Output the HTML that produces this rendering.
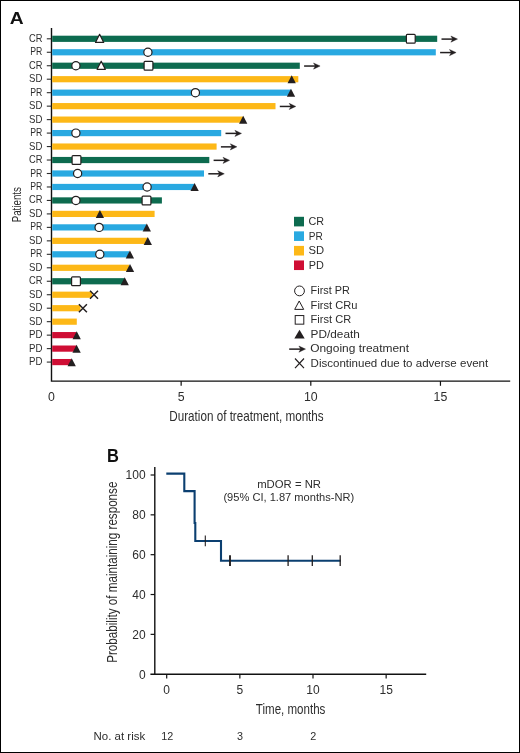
<!DOCTYPE html>
<html><head><meta charset="utf-8"><style>
html,body{margin:0;padding:0;background:#fff;}
svg{display:block;font-family:"Liberation Sans",sans-serif;}
svg{will-change:transform;}
</style></head><body>
<svg width="520" height="753" viewBox="0 0 520 753">
<rect x="0" y="0" width="520" height="753" fill="#fff"/>
<text x="9.7" y="24.1" font-size="17.4" font-weight="bold" textLength="13.9" lengthAdjust="spacingAndGlyphs" fill="#111">A</text>
<path d="M51.5,28 L51.5,381.1 L510.2,381.1" stroke="#111" stroke-width="1.4" fill="none"/>
<path d="M46.8,38.80 L51.5,38.80" stroke="#2d2d2d" stroke-width="1.1"/>
<text x="42.4" y="41.80" font-size="10.1" text-anchor="end" textLength="13.5" lengthAdjust="spacingAndGlyphs" fill="#2d2d2d">CR</text>
<path d="M46.8,52.27 L51.5,52.27" stroke="#2d2d2d" stroke-width="1.1"/>
<text x="42.4" y="55.27" font-size="10.1" text-anchor="end" textLength="12.1" lengthAdjust="spacingAndGlyphs" fill="#2d2d2d">PR</text>
<path d="M46.8,65.74 L51.5,65.74" stroke="#2d2d2d" stroke-width="1.1"/>
<text x="42.4" y="68.74" font-size="10.1" text-anchor="end" textLength="13.5" lengthAdjust="spacingAndGlyphs" fill="#2d2d2d">CR</text>
<path d="M46.8,79.21 L51.5,79.21" stroke="#2d2d2d" stroke-width="1.1"/>
<text x="42.4" y="82.21" font-size="10.1" text-anchor="end" textLength="13.3" lengthAdjust="spacingAndGlyphs" fill="#2d2d2d">SD</text>
<path d="M46.8,92.68 L51.5,92.68" stroke="#2d2d2d" stroke-width="1.1"/>
<text x="42.4" y="95.68" font-size="10.1" text-anchor="end" textLength="12.1" lengthAdjust="spacingAndGlyphs" fill="#2d2d2d">PR</text>
<path d="M46.8,106.15 L51.5,106.15" stroke="#2d2d2d" stroke-width="1.1"/>
<text x="42.4" y="109.15" font-size="10.1" text-anchor="end" textLength="13.3" lengthAdjust="spacingAndGlyphs" fill="#2d2d2d">SD</text>
<path d="M46.8,119.62 L51.5,119.62" stroke="#2d2d2d" stroke-width="1.1"/>
<text x="42.4" y="122.62" font-size="10.1" text-anchor="end" textLength="13.3" lengthAdjust="spacingAndGlyphs" fill="#2d2d2d">SD</text>
<path d="M46.8,133.09 L51.5,133.09" stroke="#2d2d2d" stroke-width="1.1"/>
<text x="42.4" y="136.09" font-size="10.1" text-anchor="end" textLength="12.1" lengthAdjust="spacingAndGlyphs" fill="#2d2d2d">PR</text>
<path d="M46.8,146.56 L51.5,146.56" stroke="#2d2d2d" stroke-width="1.1"/>
<text x="42.4" y="149.56" font-size="10.1" text-anchor="end" textLength="13.3" lengthAdjust="spacingAndGlyphs" fill="#2d2d2d">SD</text>
<path d="M46.8,160.03 L51.5,160.03" stroke="#2d2d2d" stroke-width="1.1"/>
<text x="42.4" y="163.03" font-size="10.1" text-anchor="end" textLength="13.5" lengthAdjust="spacingAndGlyphs" fill="#2d2d2d">CR</text>
<path d="M46.8,173.50 L51.5,173.50" stroke="#2d2d2d" stroke-width="1.1"/>
<text x="42.4" y="176.50" font-size="10.1" text-anchor="end" textLength="12.1" lengthAdjust="spacingAndGlyphs" fill="#2d2d2d">PR</text>
<path d="M46.8,186.97 L51.5,186.97" stroke="#2d2d2d" stroke-width="1.1"/>
<text x="42.4" y="189.97" font-size="10.1" text-anchor="end" textLength="12.1" lengthAdjust="spacingAndGlyphs" fill="#2d2d2d">PR</text>
<path d="M46.8,200.44 L51.5,200.44" stroke="#2d2d2d" stroke-width="1.1"/>
<text x="42.4" y="203.44" font-size="10.1" text-anchor="end" textLength="13.5" lengthAdjust="spacingAndGlyphs" fill="#2d2d2d">CR</text>
<path d="M46.8,213.91 L51.5,213.91" stroke="#2d2d2d" stroke-width="1.1"/>
<text x="42.4" y="216.91" font-size="10.1" text-anchor="end" textLength="13.3" lengthAdjust="spacingAndGlyphs" fill="#2d2d2d">SD</text>
<path d="M46.8,227.38 L51.5,227.38" stroke="#2d2d2d" stroke-width="1.1"/>
<text x="42.4" y="230.38" font-size="10.1" text-anchor="end" textLength="12.1" lengthAdjust="spacingAndGlyphs" fill="#2d2d2d">PR</text>
<path d="M46.8,240.85 L51.5,240.85" stroke="#2d2d2d" stroke-width="1.1"/>
<text x="42.4" y="243.85" font-size="10.1" text-anchor="end" textLength="13.3" lengthAdjust="spacingAndGlyphs" fill="#2d2d2d">SD</text>
<path d="M46.8,254.32 L51.5,254.32" stroke="#2d2d2d" stroke-width="1.1"/>
<text x="42.4" y="257.32" font-size="10.1" text-anchor="end" textLength="12.1" lengthAdjust="spacingAndGlyphs" fill="#2d2d2d">PR</text>
<path d="M46.8,267.79 L51.5,267.79" stroke="#2d2d2d" stroke-width="1.1"/>
<text x="42.4" y="270.79" font-size="10.1" text-anchor="end" textLength="13.3" lengthAdjust="spacingAndGlyphs" fill="#2d2d2d">SD</text>
<path d="M46.8,281.26 L51.5,281.26" stroke="#2d2d2d" stroke-width="1.1"/>
<text x="42.4" y="284.26" font-size="10.1" text-anchor="end" textLength="13.5" lengthAdjust="spacingAndGlyphs" fill="#2d2d2d">CR</text>
<path d="M46.8,294.73 L51.5,294.73" stroke="#2d2d2d" stroke-width="1.1"/>
<text x="42.4" y="297.73" font-size="10.1" text-anchor="end" textLength="13.3" lengthAdjust="spacingAndGlyphs" fill="#2d2d2d">SD</text>
<path d="M46.8,308.20 L51.5,308.20" stroke="#2d2d2d" stroke-width="1.1"/>
<text x="42.4" y="311.20" font-size="10.1" text-anchor="end" textLength="13.3" lengthAdjust="spacingAndGlyphs" fill="#2d2d2d">SD</text>
<path d="M46.8,321.67 L51.5,321.67" stroke="#2d2d2d" stroke-width="1.1"/>
<text x="42.4" y="324.67" font-size="10.1" text-anchor="end" textLength="13.3" lengthAdjust="spacingAndGlyphs" fill="#2d2d2d">SD</text>
<path d="M46.8,335.14 L51.5,335.14" stroke="#2d2d2d" stroke-width="1.1"/>
<text x="42.4" y="338.14" font-size="10.1" text-anchor="end" textLength="13.4" lengthAdjust="spacingAndGlyphs" fill="#2d2d2d">PD</text>
<path d="M46.8,348.61 L51.5,348.61" stroke="#2d2d2d" stroke-width="1.1"/>
<text x="42.4" y="351.61" font-size="10.1" text-anchor="end" textLength="13.4" lengthAdjust="spacingAndGlyphs" fill="#2d2d2d">PD</text>
<path d="M46.8,362.08 L51.5,362.08" stroke="#2d2d2d" stroke-width="1.1"/>
<text x="42.4" y="365.08" font-size="10.1" text-anchor="end" textLength="13.4" lengthAdjust="spacingAndGlyphs" fill="#2d2d2d">PD</text>
<rect x="52.2" y="35.70" width="385.00" height="6.2" fill="#0d6b4f"/>
<rect x="52.2" y="49.17" width="383.60" height="6.2" fill="#29a9e1"/>
<rect x="52.2" y="62.64" width="247.60" height="6.2" fill="#0d6b4f"/>
<rect x="52.2" y="76.11" width="246.10" height="6.2" fill="#fdb817"/>
<rect x="52.2" y="89.58" width="238.80" height="6.2" fill="#29a9e1"/>
<rect x="52.2" y="103.05" width="223.30" height="6.2" fill="#fdb817"/>
<rect x="52.2" y="116.52" width="190.80" height="6.2" fill="#fdb817"/>
<rect x="52.2" y="129.99" width="169.00" height="6.2" fill="#29a9e1"/>
<rect x="52.2" y="143.46" width="164.40" height="6.2" fill="#fdb817"/>
<rect x="52.2" y="156.93" width="157.10" height="6.2" fill="#0d6b4f"/>
<rect x="52.2" y="170.40" width="151.80" height="6.2" fill="#29a9e1"/>
<rect x="52.2" y="183.87" width="141.80" height="6.2" fill="#29a9e1"/>
<rect x="52.2" y="197.34" width="109.70" height="6.2" fill="#0d6b4f"/>
<rect x="52.2" y="210.81" width="102.40" height="6.2" fill="#fdb817"/>
<rect x="52.2" y="224.28" width="93.80" height="6.2" fill="#29a9e1"/>
<rect x="52.2" y="237.75" width="94.80" height="6.2" fill="#fdb817"/>
<rect x="52.2" y="251.22" width="76.80" height="6.2" fill="#29a9e1"/>
<rect x="52.2" y="264.69" width="76.80" height="6.2" fill="#fdb817"/>
<rect x="52.2" y="278.16" width="71.80" height="6.2" fill="#0d6b4f"/>
<rect x="52.2" y="291.63" width="39.80" height="6.2" fill="#fdb817"/>
<rect x="52.2" y="305.10" width="28.30" height="6.2" fill="#fdb817"/>
<rect x="52.2" y="318.57" width="24.60" height="6.2" fill="#fdb817"/>
<rect x="52.2" y="332.04" width="23.80" height="6.2" fill="#cf0e34"/>
<rect x="52.2" y="345.51" width="23.80" height="6.2" fill="#cf0e34"/>
<rect x="52.2" y="358.98" width="18.80" height="6.2" fill="#cf0e34"/>
<path d="M99.60,34.30 L103.70,42.40 L95.50,42.40 Z" fill="#fff" stroke="#231f20" stroke-width="1.2" stroke-linejoin="round"/>
<rect x="406.40" y="34.40" width="8.8" height="8.8" rx="0.9" fill="#fff" stroke="#231f20" stroke-width="1.2"/>
<path d="M441.50,39.10 L454.50,39.10" stroke="#231f20" stroke-width="1.5" fill="none"/><path d="M457.50,39.10 L450.90,36.00 L452.70,39.10 L450.90,42.20 Z" fill="#231f20" stroke="#231f20" stroke-width="0.4" stroke-linejoin="round"/>
<circle cx="147.90" cy="52.27" r="4.1" fill="#fff" stroke="#231f20" stroke-width="1.2"/>
<path d="M440.10,52.57 L453.10,52.57" stroke="#231f20" stroke-width="1.5" fill="none"/><path d="M456.10,52.57 L449.50,49.47 L451.30,52.57 L449.50,55.67 Z" fill="#231f20" stroke="#231f20" stroke-width="0.4" stroke-linejoin="round"/>
<circle cx="75.90" cy="65.74" r="4.1" fill="#fff" stroke="#231f20" stroke-width="1.2"/>
<path d="M101.20,61.24 L105.30,69.34 L97.10,69.34 Z" fill="#fff" stroke="#231f20" stroke-width="1.2" stroke-linejoin="round"/>
<rect x="144.10" y="61.34" width="8.8" height="8.8" rx="0.9" fill="#fff" stroke="#231f20" stroke-width="1.2"/>
<path d="M304.10,66.04 L317.10,66.04" stroke="#231f20" stroke-width="1.5" fill="none"/><path d="M320.10,66.04 L313.50,62.94 L315.30,66.04 L313.50,69.14 Z" fill="#231f20" stroke="#231f20" stroke-width="0.4" stroke-linejoin="round"/>
<path d="M291.70,75.31 L295.85,83.31 L287.55,83.31 Z" fill="#231f20"/>
<circle cx="195.40" cy="92.68" r="4.1" fill="#fff" stroke="#231f20" stroke-width="1.2"/>
<path d="M291.00,88.78 L295.15,96.78 L286.85,96.78 Z" fill="#231f20"/>
<path d="M279.80,106.45 L292.80,106.45" stroke="#231f20" stroke-width="1.5" fill="none"/><path d="M295.80,106.45 L289.20,103.35 L291.00,106.45 L289.20,109.55 Z" fill="#231f20" stroke="#231f20" stroke-width="0.4" stroke-linejoin="round"/>
<path d="M243.20,115.72 L247.35,123.72 L239.05,123.72 Z" fill="#231f20"/>
<circle cx="75.90" cy="133.09" r="4.1" fill="#fff" stroke="#231f20" stroke-width="1.2"/>
<path d="M225.50,133.39 L238.50,133.39" stroke="#231f20" stroke-width="1.5" fill="none"/><path d="M241.50,133.39 L234.90,130.29 L236.70,133.39 L234.90,136.49 Z" fill="#231f20" stroke="#231f20" stroke-width="0.4" stroke-linejoin="round"/>
<path d="M220.90,146.86 L233.90,146.86" stroke="#231f20" stroke-width="1.5" fill="none"/><path d="M236.90,146.86 L230.30,143.76 L232.10,146.86 L230.30,149.96 Z" fill="#231f20" stroke="#231f20" stroke-width="0.4" stroke-linejoin="round"/>
<rect x="72.10" y="155.63" width="8.8" height="8.8" rx="0.9" fill="#fff" stroke="#231f20" stroke-width="1.2"/>
<path d="M213.60,160.33 L226.60,160.33" stroke="#231f20" stroke-width="1.5" fill="none"/><path d="M229.60,160.33 L223.00,157.23 L224.80,160.33 L223.00,163.43 Z" fill="#231f20" stroke="#231f20" stroke-width="0.4" stroke-linejoin="round"/>
<circle cx="77.60" cy="173.50" r="4.1" fill="#fff" stroke="#231f20" stroke-width="1.2"/>
<path d="M208.30,173.80 L221.30,173.80" stroke="#231f20" stroke-width="1.5" fill="none"/><path d="M224.30,173.80 L217.70,170.70 L219.50,173.80 L217.70,176.90 Z" fill="#231f20" stroke="#231f20" stroke-width="0.4" stroke-linejoin="round"/>
<circle cx="147.10" cy="186.97" r="4.1" fill="#fff" stroke="#231f20" stroke-width="1.2"/>
<path d="M194.60,183.07 L198.75,191.07 L190.45,191.07 Z" fill="#231f20"/>
<circle cx="75.90" cy="200.44" r="4.1" fill="#fff" stroke="#231f20" stroke-width="1.2"/>
<rect x="142.10" y="196.04" width="8.8" height="8.8" rx="0.9" fill="#fff" stroke="#231f20" stroke-width="1.2"/>
<path d="M99.90,210.01 L104.05,218.01 L95.75,218.01 Z" fill="#231f20"/>
<circle cx="99.10" cy="227.38" r="4.1" fill="#fff" stroke="#231f20" stroke-width="1.2"/>
<path d="M146.80,223.48 L150.95,231.48 L142.65,231.48 Z" fill="#231f20"/>
<path d="M147.80,236.95 L151.95,244.95 L143.65,244.95 Z" fill="#231f20"/>
<circle cx="99.80" cy="254.32" r="4.1" fill="#fff" stroke="#231f20" stroke-width="1.2"/>
<path d="M129.90,250.42 L134.05,258.42 L125.75,258.42 Z" fill="#231f20"/>
<path d="M130.00,263.89 L134.15,271.89 L125.85,271.89 Z" fill="#231f20"/>
<rect x="71.60" y="276.86" width="8.8" height="8.8" rx="0.9" fill="#fff" stroke="#231f20" stroke-width="1.2"/>
<path d="M124.70,277.36 L128.85,285.36 L120.55,285.36 Z" fill="#231f20"/>
<path d="M90.00,290.73 L98.00,298.73 M98.00,290.73 L90.00,298.73" stroke="#231f20" stroke-width="1.45" fill="none"/>
<path d="M78.90,304.20 L86.90,312.20 M86.90,304.20 L78.90,312.20" stroke="#231f20" stroke-width="1.45" fill="none"/>
<path d="M76.70,331.24 L80.85,339.24 L72.55,339.24 Z" fill="#231f20"/>
<path d="M76.60,344.71 L80.75,352.71 L72.45,352.71 Z" fill="#231f20"/>
<path d="M71.70,358.18 L75.85,366.18 L67.55,366.18 Z" fill="#231f20"/>
<text x="51.50" y="400.8" font-size="12.3" text-anchor="middle" fill="#2d2d2d">0</text>
<path d="M181.15,381 L181.15,385.8" stroke="#111" stroke-width="1.2"/>
<text x="181.15" y="400.8" font-size="12.3" text-anchor="middle" fill="#2d2d2d">5</text>
<path d="M310.80,381 L310.80,385.8" stroke="#111" stroke-width="1.2"/>
<text x="310.80" y="400.8" font-size="12.3" text-anchor="middle" fill="#2d2d2d">10</text>
<path d="M440.45,381 L440.45,385.8" stroke="#111" stroke-width="1.2"/>
<text x="440.45" y="400.8" font-size="12.3" text-anchor="middle" fill="#2d2d2d">15</text>
<text x="169.3" y="420.5" font-size="14.2" textLength="154.4" lengthAdjust="spacingAndGlyphs" fill="#2d2d2d">Duration of treatment, months</text>
<text transform="translate(20.6,222.3) rotate(-90)" x="0" y="0" font-size="12.4" textLength="35.2" lengthAdjust="spacingAndGlyphs" fill="#2d2d2d">Patients</text>
<rect x="294" y="216.80" width="10" height="9.6" fill="#0d6b4f"/>
<text x="308.4" y="225.10" font-size="10.4" textLength="15.6" lengthAdjust="spacingAndGlyphs" fill="#2d2d2d">CR</text>
<rect x="294" y="231.35" width="10" height="9.6" fill="#29a9e1"/>
<text x="308.7" y="239.65" font-size="10.4" textLength="14.0" lengthAdjust="spacingAndGlyphs" fill="#2d2d2d">PR</text>
<rect x="294" y="245.90" width="10" height="9.6" fill="#fdb817"/>
<text x="308.4" y="254.20" font-size="10.4" textLength="15.6" lengthAdjust="spacingAndGlyphs" fill="#2d2d2d">SD</text>
<rect x="294" y="260.45" width="10" height="9.6" fill="#cf0e34"/>
<text x="308.7" y="268.75" font-size="10.4" textLength="15.1" lengthAdjust="spacingAndGlyphs" fill="#2d2d2d">PD</text>
<circle cx="299.5" cy="290.90" r="4.9" fill="#fff" stroke="#231f20" stroke-width="1"/>
<text x="310.6" y="294.10" font-size="10.3" textLength="39.3" lengthAdjust="spacingAndGlyphs" fill="#2d2d2d">First PR</text>
<path d="M299.2,300.98 L303.7,309.38 L294.7,309.38 Z" fill="#fff" stroke="#231f20" stroke-width="1"/>
<text x="310.6" y="308.58" font-size="10.3" textLength="46.9" lengthAdjust="spacingAndGlyphs" fill="#2d2d2d">First CRu</text>
<rect x="295.2" y="315.56" width="8.6" height="8.6" fill="#fff" stroke="#231f20" stroke-width="1"/>
<text x="310.6" y="323.06" font-size="10.3" textLength="40.6" lengthAdjust="spacingAndGlyphs" fill="#2d2d2d">First CR</text>
<path d="M299.5,329.84 L304.7,338.54 L294.3,338.54 Z" fill="#231f20"/>
<text x="310.6" y="337.54" font-size="10.3" textLength="49.2" lengthAdjust="spacingAndGlyphs" fill="#2d2d2d">PD/death</text>
<path d="M289.20,349.12 L302.50,349.12" stroke="#231f20" stroke-width="1.5" fill="none"/><path d="M305.50,349.12 L298.90,346.02 L300.70,349.12 L298.90,352.22 Z" fill="#231f20" stroke="#231f20" stroke-width="0.4" stroke-linejoin="round"/>
<text x="310.2" y="352.02" font-size="10.3" textLength="98.9" lengthAdjust="spacingAndGlyphs" fill="#2d2d2d">Ongoing treatment</text>
<path d="M295,358.50 L304,368.10 M304,358.50 L295,368.10" stroke="#231f20" stroke-width="1.2" fill="none"/>
<text x="310.6" y="366.50" font-size="10.3" textLength="177.6" lengthAdjust="spacingAndGlyphs" fill="#2d2d2d">Discontinued due to adverse event</text>
<text x="106.9" y="461.8" font-size="18" font-weight="bold" textLength="11.9" lengthAdjust="spacingAndGlyphs" fill="#111">B</text>
<path d="M154.8,467 L154.8,674.2 M150.4,674.2 L426.2,674.2" stroke="#111" stroke-width="1.4" fill="none"/>
<path d="M150.6,475.00 L154.8,475.00" stroke="#111" stroke-width="1.2"/>
<path d="M150.6,514.84 L154.8,514.84" stroke="#111" stroke-width="1.2"/>
<path d="M150.6,554.68 L154.8,554.68" stroke="#111" stroke-width="1.2"/>
<path d="M150.6,594.52 L154.8,594.52" stroke="#111" stroke-width="1.2"/>
<path d="M150.6,634.36 L154.8,634.36" stroke="#111" stroke-width="1.2"/>
<text x="145.6" y="479.30" font-size="12" text-anchor="end" fill="#2d2d2d">100</text>
<text x="145.6" y="519.14" font-size="12" text-anchor="end" fill="#2d2d2d">80</text>
<text x="145.6" y="558.98" font-size="12" text-anchor="end" fill="#2d2d2d">60</text>
<text x="145.6" y="598.82" font-size="12" text-anchor="end" fill="#2d2d2d">40</text>
<text x="145.6" y="638.66" font-size="12" text-anchor="end" fill="#2d2d2d">20</text>
<text x="145.6" y="678.50" font-size="12" text-anchor="end" fill="#2d2d2d">0</text>
<path d="M166.70,674.2 L166.70,678.5" stroke="#111" stroke-width="1.2"/>
<text x="166.70" y="694" font-size="12" text-anchor="middle" fill="#2d2d2d">0</text>
<path d="M239.85,674.2 L239.85,678.5" stroke="#111" stroke-width="1.2"/>
<text x="239.85" y="694" font-size="12" text-anchor="middle" fill="#2d2d2d">5</text>
<path d="M313.00,674.2 L313.00,678.5" stroke="#111" stroke-width="1.2"/>
<text x="313.00" y="694" font-size="12" text-anchor="middle" fill="#2d2d2d">10</text>
<path d="M386.15,674.2 L386.15,678.5" stroke="#111" stroke-width="1.2"/>
<text x="386.15" y="694" font-size="12" text-anchor="middle" fill="#2d2d2d">15</text>
<text x="255.8" y="713.5" font-size="14.2" textLength="69.6" lengthAdjust="spacingAndGlyphs" fill="#2d2d2d">Time, months</text>
<text transform="translate(117.2,662.8) rotate(-90)" x="0" y="0" font-size="13.8" textLength="181.2" lengthAdjust="spacingAndGlyphs" fill="#2d2d2d">Probability of maintaining response</text>
<text x="257.2" y="487.5" font-size="10.3" textLength="63.8" lengthAdjust="spacingAndGlyphs" fill="#2d2d2d">mDOR = NR</text>
<text x="223.4" y="500.5" font-size="10.3" textLength="130.8" lengthAdjust="spacingAndGlyphs" fill="#2d2d2d">(95% CI, 1.87 months-NR)</text>
<path d="M166.3,473.6 L184.3,473.6 L184.3,491.1 L194.6,491.1 L194.6,523 L195.3,523 L195.3,541 L221,541 L221,560.8 L340.8,560.8" stroke="#0b3f70" stroke-width="2.1" fill="none" stroke-linejoin="miter"/>
<path d="M205.3,535.40 L205.3,546.20" stroke="#231f20" stroke-width="1.1"/>
<path d="M230,555.20 L230,566.00" stroke="#231f20" stroke-width="1.9"/>
<path d="M288.1,555.20 L288.1,566.00" stroke="#231f20" stroke-width="1.3"/>
<path d="M312.3,555.20 L312.3,566.00" stroke="#231f20" stroke-width="1.3"/>
<path d="M340.2,555.20 L340.2,566.00" stroke="#231f20" stroke-width="1.3"/>
<text x="93.6" y="740.3" font-size="10.4" textLength="51.6" lengthAdjust="spacingAndGlyphs" fill="#2d2d2d">No. at risk</text>
<text x="167.2" y="740.3" font-size="10.8" text-anchor="middle" fill="#2d2d2d">12</text>
<text x="239.9" y="740.3" font-size="10.8" text-anchor="middle" fill="#2d2d2d">3</text>
<text x="313.2" y="740.3" font-size="10.8" text-anchor="middle" fill="#2d2d2d">2</text>
<rect x="0.5" y="0.5" width="519" height="752" fill="none" stroke="#000" stroke-width="1"/>
</svg>
</body></html>
